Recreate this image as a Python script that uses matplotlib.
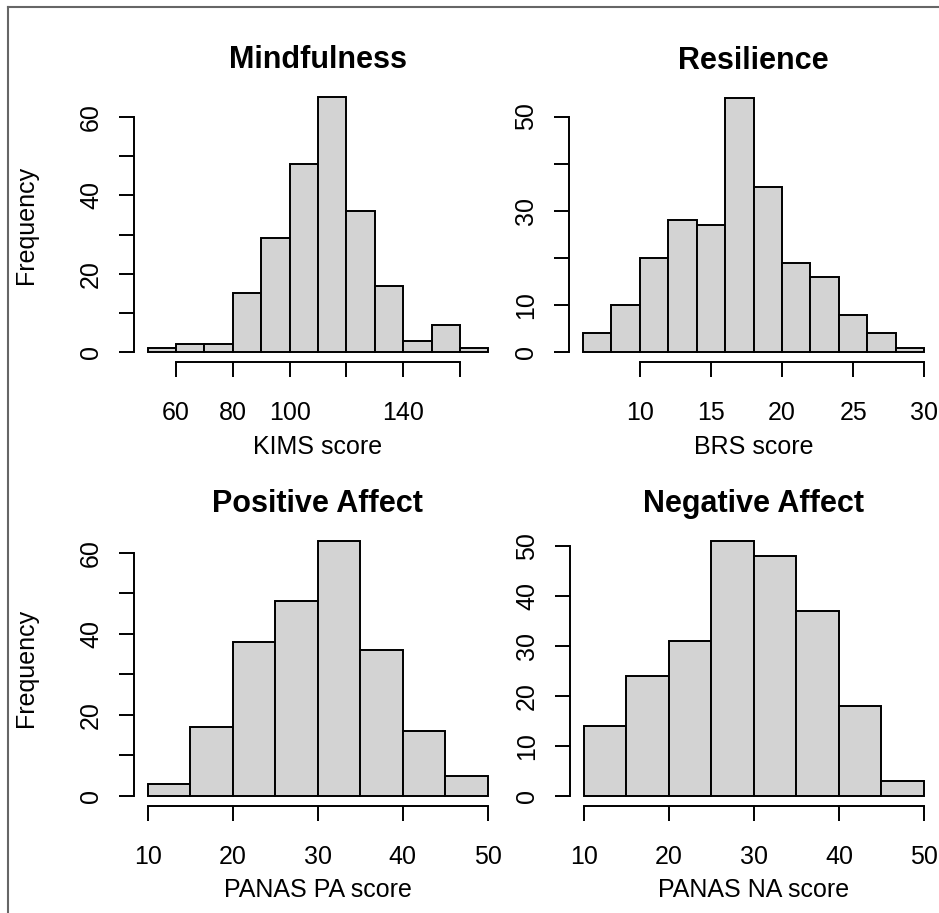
# ---------- Importing Libraries ---------- #
import numpy as np
import matplotlib
matplotlib.use("Agg")
from matplotlib import pyplot as plt
from matplotlib.lines import Line2D

# ---------- Data ---------- #
kims_edges = np.arange(50, 171, 10)
kims_counts = [1, 2, 2, 15, 29, 48, 65, 36, 17, 3, 7, 1]

brs_edges = np.arange(6, 31, 2)
brs_counts = [4, 10, 20, 28, 27, 54, 35, 19, 16, 8, 4, 1]

pa_edges = np.arange(10, 51, 5)
pa_counts = [3, 17, 38, 48, 63, 36, 16, 5]

na_edges = np.arange(10, 51, 5)
na_counts = [14, 24, 31, 51, 48, 37, 18, 3]

titles = ["Mindfulness", "Resilience", "Positive Affect", "Negative Affect"]
xlabels = ["KIMS score", "BRS score", "PANAS PA score", "PANAS NA score"]

# tick positions, and the labels R kept (it drops ones that would overlap)
kims_xticks = [60, 80, 100, 120, 140, 160]
kims_xticklabels = ["60", "80", "100", "", "140", ""]
brs_xticks = [10, 15, 20, 25, 30]
brs_xticklabels = ["10", "15", "20", "25", "30"]
panas_xticks = [10, 20, 30, 40, 50]
panas_xticklabels = ["10", "20", "30", "40", "50"]

yticks_60 = [0, 10, 20, 30, 40, 50, 60]
yticklabels_60 = ["0", "", "20", "", "40", "", "60"]
yticks_50 = [0, 10, 20, 30, 40, 50]
yticklabels_brs = ["0", "10", "", "30", "", "50"]
yticklabels_na = ["0", "10", "20", "30", "40", "50"]

# ---------- Functions ---------- #
W, H = 939, 913
plt.rcParams['font.family'] = ['Liberation Sans', 'DejaVu Sans']

fig = plt.figure(figsize=(W / 100, H / 100), dpi=100)


def px_axes(left, top, right, bottom):
    """Add an axes given its box in pixels measured from the top-left corner"""
    return fig.add_axes([left / W, 1 - bottom / H, (right - left) / W, (bottom - top) / H])


def r_hist(ax, edges, counts, title, xlabel, xticks, xticklabels, yticks, yticklabels, ylabel=None):
    """Draw a histogram that looks like R's base hist()"""
    ax.bar(edges[:-1], counts, width=np.diff(edges), align='edge',
           color='#d3d3d3', edgecolor='black', linewidth=1.4)

    # R pads the data range by 4% on each side
    xr = edges[-1] - edges[0]
    ax.set_xlim(edges[0] - 0.04 * xr, edges[-1] + 0.04 * xr)
    yr = max(counts)
    ax.set_ylim(-0.04 * yr, 1.04 * yr)

    ax.spines['top'].set_visible(False)
    ax.spines['right'].set_visible(False)
    ax.spines['left'].set_bounds(yticks[0], yticks[-1])
    ax.spines['bottom'].set_bounds(xticks[0], xticks[-1])
    ax.spines['left'].set_linewidth(1.4)
    ax.spines['bottom'].set_linewidth(1.4)

    ax.set_xticks(xticks)
    ax.set_xticklabels(xticklabels)
    ax.set_yticks(yticks)
    ax.set_yticklabels(yticklabels, rotation=90, va='center')
    ax.tick_params(axis='both', direction='out', length=10.8, width=1.4, labelsize=18)
    ax.tick_params(axis='x', pad=17)
    ax.tick_params(axis='y', pad=11.5)

    ax.set_title(title, fontsize=22, fontweight='bold', pad=13.5)

    bbox = ax.get_position()
    ax_w = bbox.width * W
    ax_h = bbox.height * H
    ax.set_xlabel(xlabel, fontsize=18)
    ax.xaxis.set_label_coords(0.5, -72 / ax_h)
    if ylabel:
        ax.set_ylabel(ylabel, fontsize=18)
        ax.yaxis.set_label_coords((38.5 - bbox.x0 * W) / ax_w, 0.5)


# ---------- Main Code ---------- #
ax1 = px_axes(134, 87, 502, 362.5)
ax2 = px_axes(569, 87.5, 938, 362.5)
ax3 = px_axes(134, 530.3, 501.5, 806.2)
ax4 = px_axes(570, 530.4, 937.6, 806.2)

r_hist(ax1, kims_edges, kims_counts, titles[0], xlabels[0],
       kims_xticks, kims_xticklabels, yticks_60, yticklabels_60, ylabel="Frequency")
r_hist(ax2, brs_edges, brs_counts, titles[1], xlabels[1],
       brs_xticks, brs_xticklabels, yticks_50, yticklabels_brs)
r_hist(ax3, pa_edges, pa_counts, titles[2], xlabels[2],
       panas_xticks, panas_xticklabels, yticks_60, yticklabels_60, ylabel="Frequency")
r_hist(ax4, na_edges, na_counts, titles[3], xlabels[3],
       panas_xticks, panas_xticklabels, yticks_50, yticklabels_na)

# grey frame of the screenshot (left and top edges only)
fig.add_artist(Line2D([8.3 / W, 8.3 / W], [0, 1 - 6.7 / H], color='#666666', linewidth=1.5))
fig.add_artist(Line2D([8.3 / W, 1], [1 - 6.7 / H, 1 - 6.7 / H], color='#666666', linewidth=1.5))

plt.savefig("out.png", dpi=100)
